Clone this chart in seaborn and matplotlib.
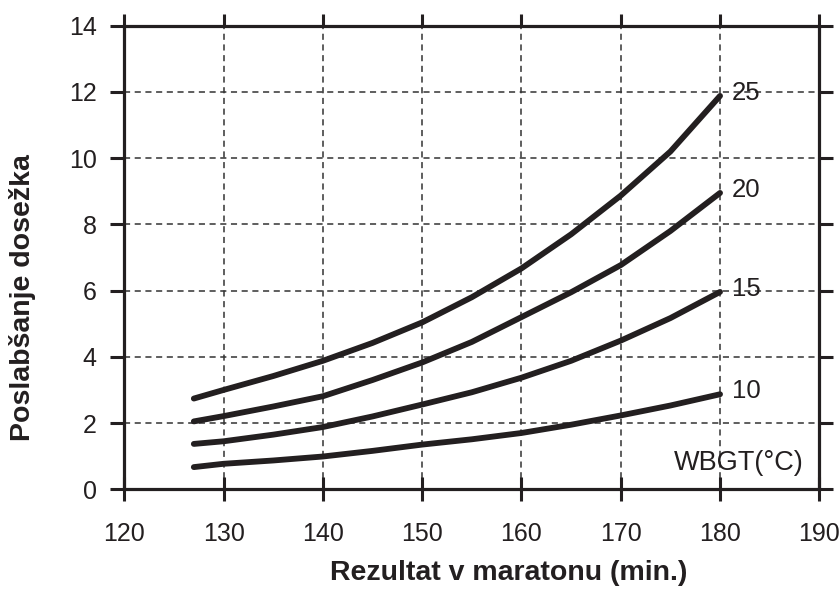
import pandas as pd
import matplotlib
matplotlib.use("Agg")
import matplotlib.pyplot as plt
import seaborn as sns

sns.set_theme(style="white")
plt.rcParams['font.family'] = ['Liberation Sans', 'DejaVu Sans']

# Podatki odčitani s slike
rezultat = [127, 130, 135, 140, 145, 150, 155, 160, 165, 170, 175, 180]
wbgt_10 = [0.67, 0.77, 0.87, 0.99, 1.16, 1.35, 1.51, 1.70, 1.95, 2.23, 2.53, 2.87]
wbgt_15 = [1.37, 1.45, 1.65, 1.88, 2.20, 2.56, 2.93, 3.37, 3.88, 4.49, 5.17, 5.96]
wbgt_20 = [2.05, 2.21, 2.50, 2.81, 3.30, 3.83, 4.45, 5.20, 5.95, 6.77, 7.80, 8.95]
wbgt_25 = [2.74, 3.00, 3.42, 3.88, 4.42, 5.04, 5.80, 6.67, 7.70, 8.87, 10.20, 11.88]
serije = {"10": wbgt_10, "15": wbgt_15, "20": wbgt_20, "25": wbgt_25}

x_ticks = [120, 130, 140, 150, 160, 170, 180, 190]
y_ticks = [0, 2, 4, 6, 8, 10, 12, 14]

df = pd.concat([
    pd.DataFrame({"rezultat": rezultat, "poslabsanje": vals, "wbgt": name})
    for name, vals in serije.items()
])

barva = "#231f20"
fig = plt.figure(figsize=(8.4, 5.92), dpi=100)
ax = fig.add_axes([0.148, 0.1735, 0.8274, 0.7831])

sns.lineplot(data=df, x="rezultat", y="poslabsanje", hue="wbgt",
             palette={k: barva for k in serije}, linewidth=4.2,
             legend=False, ax=ax, solid_capstyle="round", solid_joinstyle="round")

ax.set_xlim(120, 190)
ax.set_ylim(0, 14)
ax.set_xticks(x_ticks)
ax.set_yticks(y_ticks)
ax.grid(True, linestyle=(0, (4, 3)), color="#333333", linewidth=1.1)

for s in ax.spines.values():
    s.set_color(barva)
    s.set_linewidth(2.3)

ax.tick_params(axis="both", colors=barva, labelcolor=barva, labelsize=18, width=2.2)
ax.tick_params(axis="x", bottom=True, top=True, labeltop=False,
               direction="inout", length=17, pad=15)
ax.tick_params(axis="y", left=True, right=True, direction="out", length=10, pad=10)

# zgornje kljukice navzven
for t in ax.xaxis.get_major_ticks():
    t.tick2line.set_marker(matplotlib.lines.TICKUP)
    t.tick2line.set_markersize(9)

for name, vals in serije.items():
    ax.text(181.2, vals[-1] + 0.1, name, fontsize=18.5, color=barva,
            ha="left", va="center")

ax.text(188.4, 0.8, "WBGT(°C)", fontsize=19.5, color=barva, ha="right", va="center")

ax.set_xlabel("Rezultat v maratonu (min.)", fontsize=20.5, fontweight="bold",
              color=barva, va="center")
ax.set_ylabel("Poslabšanje dosežka", fontsize=20.5, fontweight="bold",
              color=barva, va="center")
ax.xaxis.set_label_coords(0.553, -0.181)
ax.yaxis.set_label_coords(-0.146, 0.413)

fig.savefig("out.png", dpi=100)
